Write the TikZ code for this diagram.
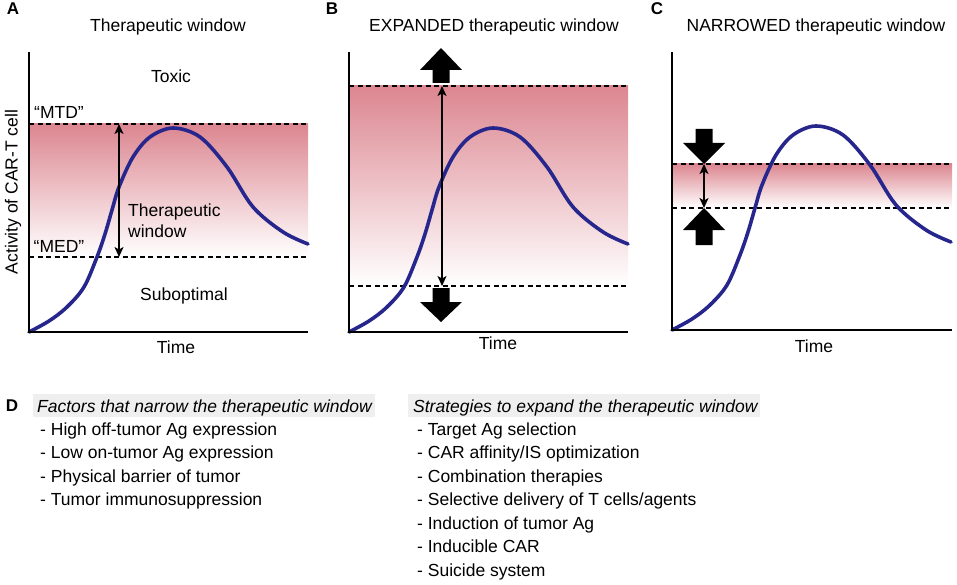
\documentclass[tikz,border=0pt]{standalone}
\usepackage{fontspec}
\setmainfont{Liberation Sans}
\usetikzlibrary{arrows.meta}
\definecolor{pinkc}{RGB}{220,134,144}
\definecolor{curveblue}{RGB}{38,38,140}
\definecolor{hdrgray}{RGB}{239,239,239}
\tikzset{
  txt/.style={font=\fontsize{17.5}{20}\selectfont, inner sep=0pt, anchor=base},
  ltxt/.style={txt, anchor=base west},
  itxt/.style={font=\fontsize{17.5}{20}\selectfont\itshape, inner sep=0pt, anchor=base west},
  lbl/.style={font=\fontsize{17}{20}\selectfont\bfseries, inner sep=0pt, anchor=base},
  axisline/.style={draw=black, line width=1.8pt},
  dashline/.style={draw=black, line width=1.6pt, dash pattern=on 5pt off 3.5pt},
  curvestyle/.style={draw=curveblue, line width=3.6pt, line cap=round},
  dblarrow/.style={draw=black, line width=1.4pt, {Stealth[length=10pt,width=9pt,inset=2.5pt]}-{Stealth[length=10pt,width=9pt,inset=2.5pt]}},
  blockarrow/.style={fill=black, draw=none},
  hdrbox/.style={fill=hdrgray, draw=none}
}
\newcommand\carcurve[1]{%
  \begin{scope}[shift={#1}]
    \draw[curvestyle] plot[smooth, tension=0.55] coordinates {(0,0) (20,-11) (38,-25) (55,-45) (68,-75) (76,-98) (83,-122) (90,-145) (104,-175) (121,-195) (144,-204) (171,-195) (198,-165) (224,-125) (254,-100) (279,-88)};
  \end{scope}}
\newcommand\blockarrowshape[4]{% center x, tip y, head base y, shaft end y
  \fill[blockarrow] (#1,#2) -- (#1+21,#3) -- (#1+8.5,#3) -- (#1+8.5,#4) -- (#1-8.5,#4) -- (#1-8.5,#3) -- (#1-21,#3) -- cycle;}
\begin{document}
\begin{tikzpicture}[x=1pt, y=-1pt]
\useasboundingbox (0,0) rectangle (957,585);

% ---------------- Panel A ----------------
\node[lbl] (labA) at (13,15) {A};
\node[txt] (titA) at (168,32) {Therapeutic window};
\shade[top color=pinkc, bottom color=white] (29,124) rectangle (308,257);
\coordinate (aMTDl) at (29,124); \coordinate (aMTDr) at (308,124);
\coordinate (aMEDl) at (29,257); \coordinate (aMEDr) at (308,257);
\draw[dashline] (aMTDl) -- (aMTDr);
\draw[dashline] (aMEDl) -- (aMEDr);
\carcurve{(29,332)}
\coordinate (aTop) at (119,124); \coordinate (aBot) at (119,257);
\draw[dblarrow] (aBot) -- (aTop);
\draw[axisline] (29,52) -- (29,332) -- (308,332);
\node[txt] (toxic) at (171,83) {Toxic};
\node[txt] (mtd) at (59,119) {“MTD”};
\node[txt] (med) at (59,252) {“MED”};
\node[ltxt] (tw1) at (128,217) {Therapeutic};
\node[ltxt] (tw2) at (128,237) {window};
\node[txt] (subopt) at (184,300) {Suboptimal};
\node[txt] (timeA) at (176,353) {Time};
\node[txt, rotate=90, anchor=center] (ylab) at (13,192) {Activity of CAR-T cell};

% ---------------- Panel B ----------------
\node[lbl] (labB) at (332,15) {B};
\node[txt] (titB) at (494,32) {EXPANDED therapeutic window};
\shade[top color=pinkc, bottom color=white] (349,86) rectangle (628,286);
\coordinate (bTopl) at (349,86); \coordinate (bTopr) at (628,86);
\coordinate (bBotl) at (349,286); \coordinate (bBotr) at (628,286);
\draw[dashline] (bTopl) -- (bTopr);
\draw[dashline] (bBotl) -- (bBotr);
\carcurve{(349,332)}
\coordinate (bTop) at (442,86); \coordinate (bBot) at (442,286);
\draw[dblarrow] (bBot) -- (bTop);
\blockarrowshape{441}{48}{70}{83}
\blockarrowshape{441}{322}{302}{288}
\draw[axisline] (349,52) -- (349,332) -- (628,332);
\node[txt] (timeB) at (498,349) {Time};

% ---------------- Panel C ----------------
\node[lbl] (labC) at (657,15) {C};
\node[txt] (titC) at (816,32) {NARROWED therapeutic window};
\shade[top color=pinkc, bottom color=white] (672,164) rectangle (952,208);
\coordinate (cTopl) at (672,164); \coordinate (cTopr) at (952,164);
\coordinate (cBotl) at (672,208); \coordinate (cBotr) at (952,208);
\draw[dashline] (cTopl) -- (cTopr);
\draw[dashline] (cBotl) -- (cBotr);
\carcurve{(672,330)}
\coordinate (cTop) at (704,164); \coordinate (cBot) at (704,208);
\draw[dblarrow] (cBot) -- (cTop);
\blockarrowshape{704}{164}{143}{129}
\blockarrowshape{704}{208}{230}{245}
\draw[axisline] (672,52) -- (672,330) -- (952,330);
\node[txt] (timeC) at (814,352) {Time};

% ---------------- Panel D ----------------
\node[lbl] (labD) at (12,411) {D};
\fill[hdrbox] (33,394) rectangle (375,417);
\fill[hdrbox] (408,394) rectangle (760,417);
\node[itxt] (hdrL) at (37,412) {Factors that narrow the therapeutic window};
\node[ltxt] (l1) at (40,435) {- High off-tumor Ag expression};
\node[ltxt] (l2) at (40,458.5) {- Low on-tumor Ag expression};
\node[ltxt] (l3) at (40,482) {- Physical barrier of tumor};
\node[ltxt] (l4) at (40,505.5) {- Tumor immunosuppression};
\node[itxt] (hdrR) at (413,412) {Strategies to expand the therapeutic window};
\node[ltxt] (r1) at (417,435) {- Target Ag selection};
\node[ltxt] (r2) at (417,458.5) {- CAR affinity/IS optimization};
\node[ltxt] (r3) at (417,482) {- Combination therapies};
\node[ltxt] (r4) at (417,505.5) {- Selective delivery of T cells/agents};
\node[ltxt] (r5) at (417,529) {- Induction of tumor Ag};
\node[ltxt] (r6) at (417,552.5) {- Inducible CAR};
\node[ltxt] (r7) at (417,576) {- Suicide system};
\end{tikzpicture}
\end{document}
